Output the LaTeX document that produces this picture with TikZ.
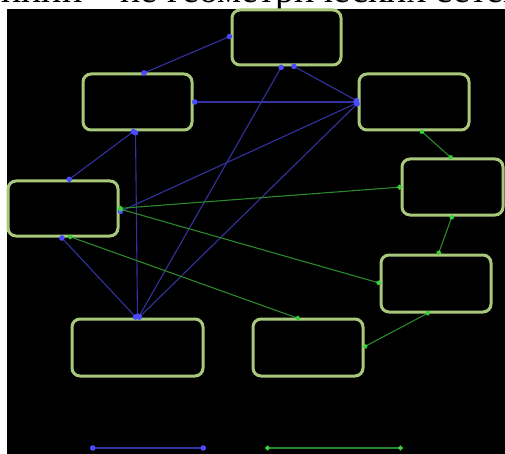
\documentclass[tikz,border=0pt]{standalone}
\usepackage{fontspec}
\setmainfont{Liberation Serif}
\usetikzlibrary{arrows.meta}
\definecolor{boxc}{HTML}{A8C87C}
\definecolor{bl}{HTML}{3232A0}
\definecolor{bldot}{HTML}{4A4AFF}
\definecolor{gr}{HTML}{2C882C}
\definecolor{grdot}{HTML}{3AD03A}
\begin{document}
\begin{tikzpicture}[x=1pt,y=-1pt,
  box/.style={draw=boxc,line width=3pt,rounded corners=8pt,minimum height=55pt,inner sep=0pt,outer sep=0pt},
  bcon/.style={draw=bl,line width=1.1pt,arrows={Circle[length=5.5pt,color=bldot]-Circle[length=5.5pt,color=bldot]}},
  gcon/.style={draw=gr,line width=1.1pt,arrows={Circle[length=5pt,color=grdot]-Circle[length=5pt,color=grdot]}}]
\useasboundingbox (0,0) rectangle (505,454);
\clip (0,0) rectangle (505,454);
\fill[white] (0,0) rectangle (505,454);
\node[anchor=base west,font=\fontsize{38}{44}\selectfont,inner sep=0pt] (title) at (-18,3) {линии – не геометрических сетей};
\fill[black] (7,9) rectangle (505,454);
% boxes
\node[box,minimum width=109pt] (T)  at (286.5,37.5) {};
\node[box,minimum width=109pt,minimum height=56pt] (UL) at (137.5,102) {};
\node[box,minimum width=110pt,minimum height=56pt] (UR) at (414,102) {};
\node[box,minimum width=110pt] (LM) at (63,208.5) {};
\node[box,minimum width=101pt,minimum height=56pt] (RM) at (452.5,187) {};
\node[box,minimum width=110pt,minimum height=57pt] (LR) at (436,283.5) {};
\node[box,minimum width=110pt,minimum height=57pt] (BM) at (308,347.5) {};
\node[box,minimum width=131pt,minimum height=57pt] (BL) at (137.5,347.5) {};
% blue connectors
\draw[bcon] ([yshift=2pt]T.west) -- ([xshift=4pt]UL.north);
\draw[bcon] (UR.west) -- (UL.east);
\draw[bcon] ([xshift=-2pt]UL.south) -- ([xshift=4pt]LM.north);
\draw[bcon] ([xshift=-2pt]UL.south) -- (BL.north);
\draw[bcon] ([xshift=-4pt]T.south) -- (BL.north);
\draw[bcon] ([xshift=5pt]T.south) -- (UR.west);
\draw[bcon] (UR.west) -- (BL.north);
\draw[bcon] (UR.west) -- ([yshift=-4pt]LM.east);
\draw[bcon] ([xshift=-3pt]LM.south) -- (BL.north);
% green connectors
\draw[gcon] (LM.east) -- (RM.west);
\draw[gcon] (LM.east) -- (LR.west);
\draw[gcon] ([xshift=5pt]LM.south) -- ([xshift=-8pt]BM.north);
\draw[gcon] ([xshift=6pt]UR.south) -- (RM.north);
\draw[gcon] (RM.south) -- ([xshift=2pt]LR.north);
\draw[gcon] ([xshift=-6pt]LR.south) -- (BM.east);
% legend
\coordinate (lb1) at (90,448);
\coordinate (lb2) at (206,448);
\coordinate (lg1) at (265,448);
\coordinate (lg2) at (403,448);
\draw[bcon] (lb1) -- (lb2);
\draw[gcon] (lg1) -- (lg2);
\end{tikzpicture}
\end{document}
